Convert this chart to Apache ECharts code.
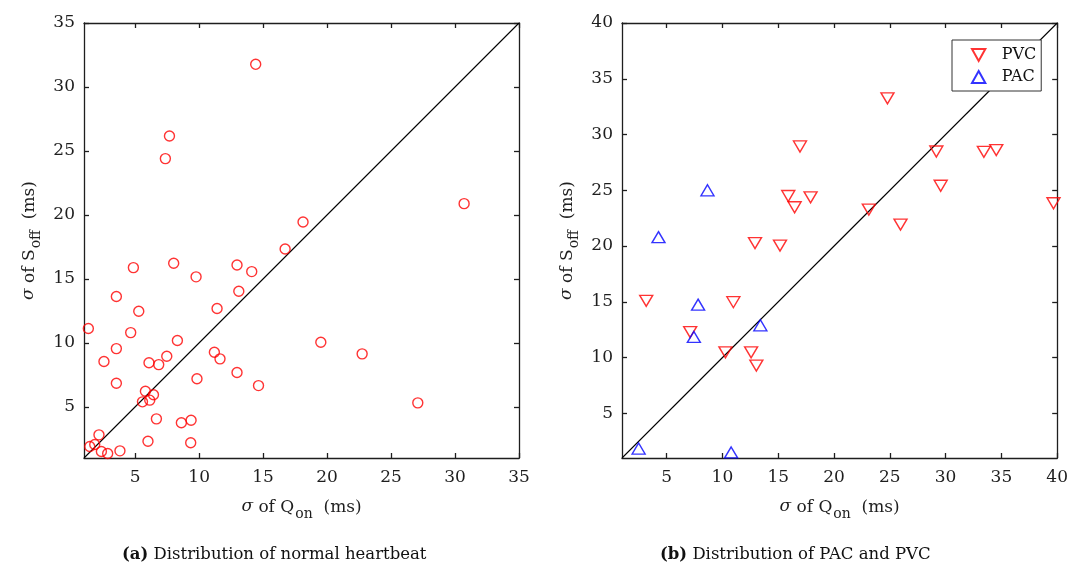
<!DOCTYPE html>
<html>
<head>
<meta charset="utf-8">
<script src="https://cdn.jsdelivr.net/npm/echarts@6/dist/echarts.min.js"></script>
<style>html,body{margin:0;padding:0;background:#fff}#c{width:1071px;height:570px}</style>
</head>
<body>
<div id="c"></div>
<script>
// ---- data ----
const normalX = [16.72, 8.01, 4.86, 12.96, 14.11, 9.76, 13.10, 3.53, 11.40, 5.28, 1.34, 4.65, 8.30, 3.53, 11.19, 11.63, 7.47, 2.56, 6.08, 6.84, 12.96, 9.83, 14.64, 3.53, 5.80, 6.43, 5.57, 6.14, 6.66, 8.61, 9.37, 2.17, 6.00, 9.34, 1.45, 1.84, 2.36, 2.85, 3.81, 14.42, 7.68, 7.36, 18.12, 30.71, 19.51, 22.74, 27.09];
const normalY = [17.34, 16.22, 15.88, 16.09, 15.57, 15.16, 14.03, 13.62, 12.68, 12.47, 11.12, 10.80, 10.18, 9.55, 9.27, 8.75, 8.95, 8.54, 8.44, 8.30, 7.68, 7.19, 6.66, 6.84, 6.22, 5.94, 5.39, 5.52, 4.06, 3.75, 3.95, 2.81, 2.31, 2.19, 1.90, 2.05, 1.51, 1.35, 1.56, 31.77, 26.17, 24.40, 19.45, 20.88, 10.05, 9.14, 5.31];
const pvcX = [16.95, 15.90, 17.90, 16.47, 12.92, 15.16, 3.17, 10.98, 7.11, 10.27, 12.57, 13.04, 24.79, 29.17, 33.43, 34.54, 29.56, 39.67, 23.12, 25.96];
const pvcY = [28.93, 24.49, 24.37, 23.48, 20.27, 20.05, 15.09, 14.97, 12.29, 10.47, 10.47, 9.29, 33.24, 28.48, 28.45, 28.60, 25.41, 23.84, 23.27, 21.93];
const pacX = [8.66, 4.27, 7.82, 13.40, 7.44, 2.49, 10.78];
const pacY = [25.0, 20.8, 14.75, 12.9, 11.85, 1.85, 1.5];
const diagA = [1, 35];
const diagB = [1, 40];
const ticksA = [5, 10, 15, 20, 25, 30, 35];
const ticksB = [5, 10, 15, 20, 25, 30, 35, 40];
const rangeA = [1, 35];
const rangeB = [1, 40];
const xTitle = '{it|σ} of Q{sub|on}  (ms)';
const yTitle = '{it|σ} of S{sub|off}  (ms)';
const captionA = '{b|(a)} Distribution of normal heartbeat';
const captionB = '{b|(b)} Distribution of PAC and PVC';
const seriesNames = ['PVC', 'PAC'];

// ---- chart ----
const FONT = 'DejaVu Serif';
const AX = '#1e1e1e';
const richName = {
  it: { fontStyle: 'italic', fontFamily: FONT, fontSize: 17, color: AX, lineHeight: 20, verticalAlign: 'top' },
  sub: { fontFamily: FONT, fontSize: 14, color: AX, lineHeight: 20, padding: [9, 0, 0, 1], verticalAlign: 'top' }
};
const zip = (a, b) => a.map((v, i) => [v, b[i]]);

function axisPair(gi, range, ticks, isX) {
  const base = {
    gridIndex: gi, type: 'value', min: range[0], max: range[1],
    splitLine: { show: false },
    axisLine: { onZero: false, lineStyle: { color: AX, width: 1.3 } },
    axisTick: { inside: true, length: 5, customValues: ticks, lineStyle: { color: AX, width: 1.3 } }
  };
  const main = Object.assign({}, base, {
    position: isX ? 'bottom' : 'left',
    axisLabel: { customValues: ticks, color: AX, fontFamily: FONT, fontSize: 17, margin: isX ? 11 : 9 },
    name: isX ? xTitle : yTitle,
    nameLocation: 'middle',
    nameGap: isX ? 40 : 44,
    nameTextStyle: { fontFamily: FONT, fontSize: 17, color: AX, lineHeight: 20, verticalAlign: isX ? 'top' : 'bottom', rich: richName }
  });
  const mirror = Object.assign({}, base, {
    position: isX ? 'top' : 'right',
    axisLabel: { show: false }
  });
  return [main, mirror];
}

const chart = echarts.init(document.getElementById('c'), null, { renderer: 'canvas' });
const triDown = 'path://M0,0 L10,0 L5,9 Z';
const triUp = 'path://M5,0 L10,9 L0,9 Z';
const capStyle = { fontFamily: FONT, fontSize: 16.5, fontWeight: 'normal', color: '#111',
  rich: { b: { fontFamily: FONT, fontSize: 16.5, fontWeight: 'bold', color: '#111' } } };

chart.setOption({
  animation: false,
  backgroundColor: '#fff',
  grid: [
    { left: 84, top: 23, width: 435, height: 435 },
    { left: 622, top: 23, width: 436, height: 435 }
  ],
  xAxis: [...axisPair(0, rangeA, ticksA, true), ...axisPair(1, rangeB, ticksB, true)],
  yAxis: [...axisPair(0, rangeA, ticksA, false), ...axisPair(1, rangeB, ticksB, false)],
  title: [
    { text: captionA, left: 117, top: 541, textStyle: capStyle },
    { text: captionB, left: 655, top: 541, textStyle: capStyle }
  ],
  legend: {
    data: seriesNames,
    orient: 'vertical', left: 952, top: 40,
    backgroundColor: '#fff',
    borderColor: '#333', borderWidth: 1, borderRadius: 0,
    padding: [7, 5, 6, 19],
    itemWidth: 14, itemHeight: 12, itemGap: 6,
    textStyle: { fontFamily: FONT, fontSize: 16, color: '#111', padding: [0, 0, 0, 11] }
  },
  series: [
    {
      type: 'line', xAxisIndex: 0, yAxisIndex: 0, data: zip(diagA, diagA),
      symbol: 'none', silent: true, lineStyle: { color: '#000', width: 1.1 }, z: 1
    },
    {
      name: 'normal', type: 'scatter', xAxisIndex: 0, yAxisIndex: 0, data: zip(normalX, normalY),
      symbol: 'circle', symbolSize: 10,
      itemStyle: { color: 'rgba(0,0,0,0)', borderColor: '#ff0000', borderWidth: 1.4 }, z: 3
    },
    {
      type: 'line', xAxisIndex: 2, yAxisIndex: 2, data: zip(diagB, diagB),
      symbol: 'none', silent: true, lineStyle: { color: '#000', width: 1.1 }, z: 1
    },
    {
      name: 'PVC', type: 'scatter', xAxisIndex: 2, yAxisIndex: 2, data: zip(pvcX, pvcY),
      symbol: triDown, symbolSize: [13, 11],
      itemStyle: { color: 'rgba(0,0,0,0)', borderColor: '#ff0000', borderWidth: 1.4 }, z: 3
    },
    {
      name: 'PAC', type: 'scatter', xAxisIndex: 2, yAxisIndex: 2, data: zip(pacX, pacY),
      symbol: triUp, symbolSize: [13, 11],
      itemStyle: { color: 'rgba(0,0,0,0)', borderColor: '#0000ff', borderWidth: 1.4 }, z: 3
    }
  ]
});
</script>
</body>
</html>
